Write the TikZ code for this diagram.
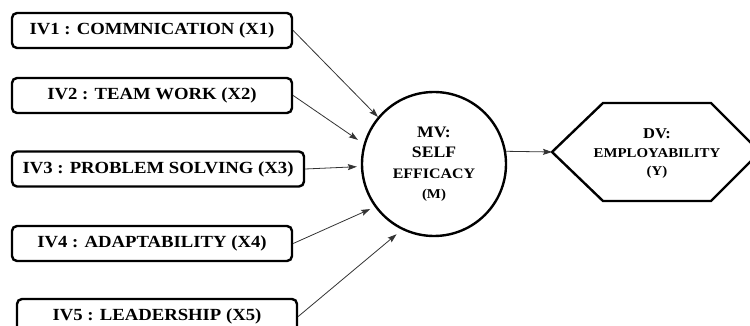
\documentclass[tikz,border=0pt]{standalone}
\usepackage{fontspec}
\setmainfont{Liberation Serif}[FakeStretch=1.1]
\usetikzlibrary{arrows.meta}
\begin{document}
\begin{tikzpicture}[x=1pt,y=1pt,
  ivbox/.style={draw, line width=2.4pt, rounded corners=5pt, minimum height=35pt, inner sep=0pt, font=\fontsize{17}{18}\selectfont\bfseries},
  link/.style={draw=black!80, line width=0.8pt, -{Stealth[length=9pt,width=6pt,inset=1.5pt]}},
  mvnode/.style={draw, circle, line width=2.4pt, minimum size=144pt, inner sep=0pt, align=center, font=\fontsize{14.5}{20.5}\selectfont\bfseries},
  dvtext/.style={align=center, inner sep=0pt, font=\fontsize{13.5}{18.5}\selectfont\bfseries},
  hexline/.style={line width=2.4pt, line join=miter}
]
\useasboundingbox (0,0) rectangle (750,-326);

\node[ivbox, minimum width=280pt] (iv1) at (152,-30.5) {IV1 : COMMNICATION (X1)};
\node[ivbox, minimum width=280pt] (iv2) at (152,-95.5) {IV2 : TEAM WORK (X2)};
\node[ivbox, minimum width=292pt] (iv3) at (158,-169) {IV3 : PROBLEM SOLVING (X3)};
\node[ivbox, minimum width=280pt] (iv4) at (152,-243.5) {IV4 : ADAPTABILITY (X4)};
\node[ivbox, minimum width=280pt] (iv5) at (157,-316.5) {IV5 : LEADERSHIP (X5)};

\node[mvnode] (m) at (434,-164) {{\fontsize{16}{20.5}\selectfont MV:}\\{\fontsize{16}{20.5}\selectfont SELF}\\EFFICACY\\{\fontsize{13.5}{20.5}\selectfont (M)}};

\coordinate (dvl) at (552,-152);
\draw[hexline] (dvl) -- (603,-103) -- (711,-103) -- (760,-152) -- (711,-201) -- (603,-201) -- cycle;
\node[dvtext] (dv) at (657,-154) {{\fontsize{15}{18.5}\selectfont DV:}\\EMPLOYABILITY\\(Y)};

\draw[link] (iv1.east) -- (m.140);
\draw[link, shorten >=7pt] (iv2.east) -- (m.164);
\draw[link, shorten >=4pt] (iv3.east) -- (m.182);
\draw[link, shorten >=5pt] (iv4.east) -- (m.216);
\draw[link, shorten >=7pt] (iv5.east) -- (m.244);
\draw[link] (m.10) -- (dvl);
\end{tikzpicture}
\end{document}
